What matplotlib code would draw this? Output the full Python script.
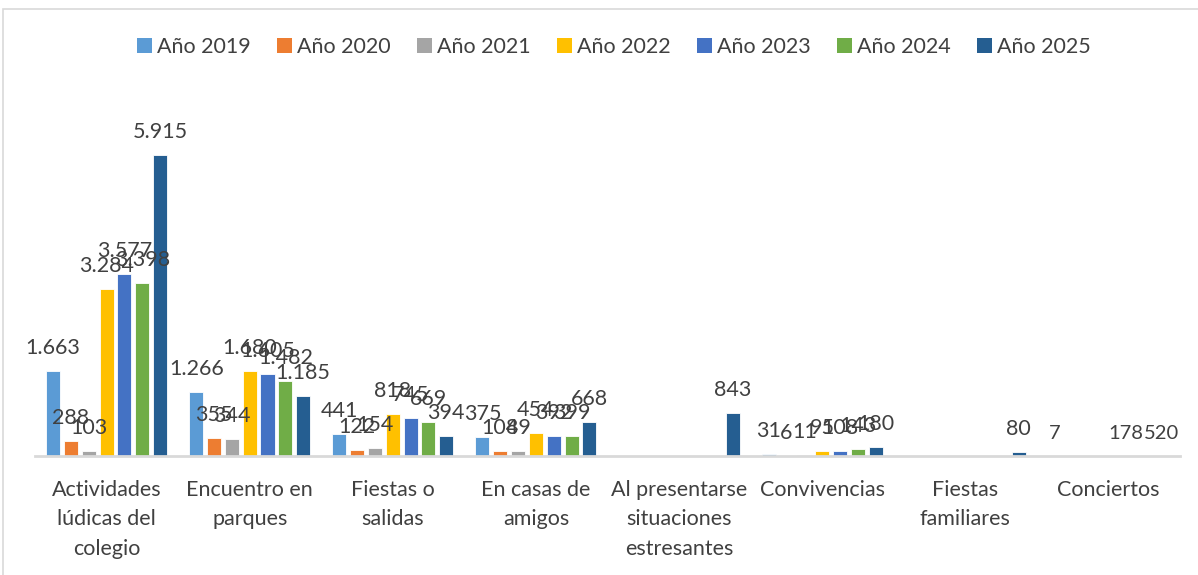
import matplotlib
matplotlib.use("Agg")
import matplotlib.pyplot as plt
import numpy as np
from matplotlib.patches import Patch, Rectangle

categories = ["Actividades\nlúdicas del\ncolegio", "Encuentro en\nparques", "Fiestas o\nsalidas",
              "En casas de\namigos", "Al presentarse\nsituaciones\nestresantes", "Convivencias",
              "Fiestas\nfamiliares", "Conciertos"]
series_names = ["Año 2019", "Año 2020", "Año 2021", "Año 2022", "Año 2023", "Año 2024", "Año 2025"]
y2019 = [1663, 1266, 441, 375, 0, 31, 0, 0]
y2020 = [288, 355, 122, 104, 0, 6, 0, 0]
y2021 = [103, 344, 154, 89, 0, 11, 0, 0]
y2022 = [3284, 1680, 818, 454, 0, 95, 0, 0]
y2023 = [3577, 1605, 745, 392, 0, 108, 0, 0]
y2024 = [3398, 1482, 669, 399, 0, 143, 0, 0]
y2025 = [5915, 1185, 394, 668, 843, 180, 80, 0]
# labels shown for "Conciertos" (no visible bars in the reference)
conciertos_labels = ["7", "", "", "", "178", "", "520"]

colors = ["#5B9BD5", "#ED7D31", "#A5A5A5", "#FFC000", "#4472C4", "#70AD47", "#255E91"]
series = [y2019, y2020, y2021, y2022, y2023, y2024, y2025]

FONT = ["Lato", "DejaVu Sans"]
TXT = "#404040"

W, H = 1198, 575
fig = plt.figure(figsize=(W / 100, H / 100), dpi=100)

# outer frame
fig.patches.append(Rectangle((3 / W, -0.1), 1.2, (H - 9) / H + 0.1, transform=fig.transFigure,
                             fill=False, edgecolor="#D9D9D9", linewidth=1.2))

ax_left, ax_right = 35, 1180
ax_bottom, ax_top = 456, 100
ax = fig.add_axes([ax_left / W, 1 - ax_bottom / H, (ax_right - ax_left) / W, (ax_bottom - ax_top) / H])

x = np.arange(len(categories))
pitch = 0.1245
bw = 0.098
for i, (vals, c) in enumerate(zip(series, colors)):
    pos = x + (i - 3) * pitch
    ax.bar(pos, vals, width=bw, color=c, edgecolor="white", linewidth=0.6, zorder=2)
    for p, v in zip(pos, vals):
        if v > 0:
            ax.annotate(f"{v:,}".replace(",", "."), (p, v), xytext=(0, 17), textcoords="offset pixels",
                        ha="center", va="baseline", fontsize=15.5, color=TXT, family=FONT)
for i, lab in enumerate(conciertos_labels):
    if lab:
        ax.annotate(lab, (x[-1] + (i - 3) * pitch, 0), xytext=(0, 17), textcoords="offset pixels",
                    ha="center", va="baseline", fontsize=14.5, color=TXT, family=FONT)

ax.set_xlim(-0.5, len(categories) - 0.5)
ax.set_ylim(0, 7000)
for s in ["top", "right", "left"]:
    ax.spines[s].set_visible(False)
ax.spines["bottom"].set_color("#D9D9D9")
ax.spines["bottom"].set_linewidth(2)
ax.set_yticks([])
ax.set_xticks(x)
ax.set_xticklabels(categories, fontsize=15.5, color=TXT, family=FONT, linespacing=1.6)
ax.tick_params(axis="x", length=0, pad=17)

handles = [Patch(facecolor=c, edgecolor="none") for c in colors]
leg = fig.legend(handles, series_names, loc="center", bbox_to_anchor=(614 / W, 1 - 47 / H), ncol=7,
                 frameon=False, prop={"family": FONT, "size": 15.5}, handlelength=0.7, handleheight=0.75,
                 handletextpad=0.25, columnspacing=1.2)
for t in leg.get_texts():
    t.set_color(TXT)

fig.savefig("out.png", dpi=100)
